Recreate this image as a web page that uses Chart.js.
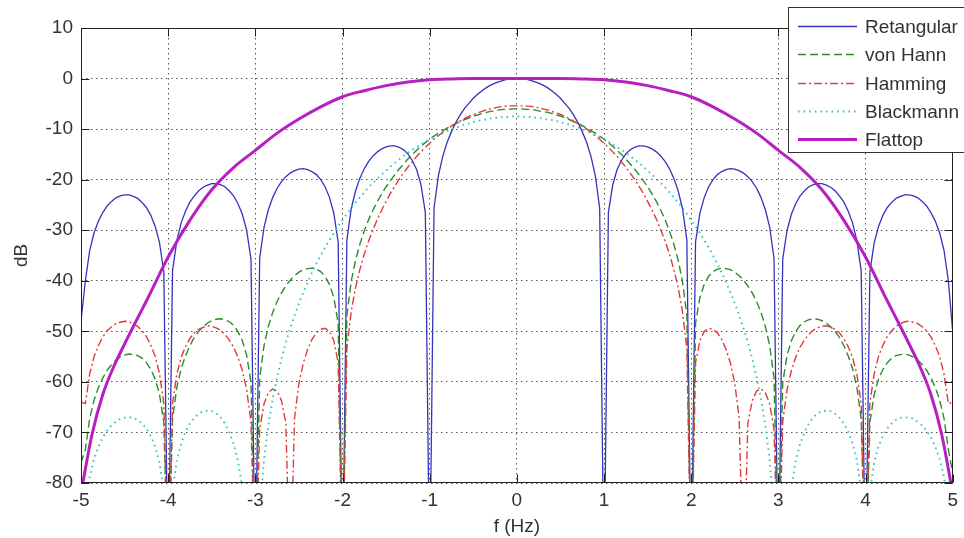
<!DOCTYPE html>
<html>
<head>
<meta charset="utf-8">
<script src="https://cdn.jsdelivr.net/npm/chart.js@4.4.1/dist/chart.umd.min.js"></script>
<style>
  html, body { margin: 0; padding: 0; background: #fff; }
</style>
</head>
<body>
<canvas id="chart" width="964" height="538"></canvas>
<script>
// frequency grid (Hz), shared by the four fine curves
const freq = [
  -5, -4.95, -4.9, -4.85, -4.8, -4.75, -4.7, -4.65, -4.6, -4.55, -4.5, -4.45, -4.4, -4.35, -4.3, -4.25, -4.2, -4.15, -4.1, -4.05,
  -4, -3.95, -3.9, -3.85, -3.8, -3.75, -3.7, -3.65, -3.6, -3.55, -3.5, -3.45, -3.4, -3.35, -3.3, -3.25, -3.2, -3.15, -3.1, -3.05,
  -3, -2.95, -2.9, -2.85, -2.8, -2.75, -2.7, -2.65, -2.6, -2.55, -2.5, -2.45, -2.4, -2.35, -2.3, -2.25, -2.2, -2.15, -2.1, -2.05,
  -2, -1.95, -1.9, -1.85, -1.8, -1.75, -1.7, -1.65, -1.6, -1.55, -1.5, -1.45, -1.4, -1.35, -1.3, -1.25, -1.2, -1.15, -1.1, -1.05,
  -1, -0.95, -0.9, -0.85, -0.8, -0.75, -0.7, -0.65, -0.6, -0.55, -0.5, -0.45, -0.4, -0.35, -0.3, -0.25, -0.2, -0.15, -0.1, -0.05,
  0, 0.05, 0.1, 0.15, 0.2, 0.25, 0.3, 0.35, 0.4, 0.45, 0.5, 0.55, 0.6, 0.65, 0.7, 0.75, 0.8, 0.85, 0.9, 0.95,
  1, 1.05, 1.1, 1.15, 1.2, 1.25, 1.3, 1.35, 1.4, 1.45, 1.5, 1.55, 1.6, 1.65, 1.7, 1.75, 1.8, 1.85, 1.9, 1.95,
  2, 2.05, 2.1, 2.15, 2.2, 2.25, 2.3, 2.35, 2.4, 2.45, 2.5, 2.55, 2.6, 2.65, 2.7, 2.75, 2.8, 2.85, 2.9, 2.95,
  3, 3.05, 3.1, 3.15, 3.2, 3.25, 3.3, 3.35, 3.4, 3.45, 3.5, 3.55, 3.6, 3.65, 3.7, 3.75, 3.8, 3.85, 3.9, 3.95,
  4, 4.05, 4.1, 4.15, 4.2, 4.25, 4.3, 4.35, 4.4, 4.45, 4.5, 4.55, 4.6, 4.65, 4.7, 4.75, 4.8, 4.85, 4.9, 4.95,
  5
];

// dB values (-100 = null, below the axis)
const rectangular = [
  -48, -40.0, -34.0, -30.5, -28.2, -26.5, -25.2, -24.3, -23.6, -23.2, -23.0, -23.0, -23.3, -23.7, -24.5, -25.5, -27.0, -29.2, -32.4, -38.2,
  -100, -38.0, -32.0, -28.5, -26.2, -24.4, -23.2, -22.2, -21.5, -21.1, -20.8, -20.8, -21.0, -21.4, -22.2, -23.2, -24.7, -26.8, -30.0, -35.7,
  -100, -35.5, -29.4, -25.9, -23.5, -21.7, -20.4, -19.4, -18.7, -18.2, -17.9, -17.8, -18.0, -18.4, -19.0, -20.0, -21.4, -23.5, -26.6, -32.3,
  -100, -31.9, -25.7, -22.2, -19.7, -17.8, -16.4, -15.3, -14.5, -13.9, -13.5, -13.3, -13.3, -13.6, -14.1, -14.9, -16.2, -18.0, -21.0, -26.5,
  -100, -25.6, -19.2, -15.4, -12.6, -10.5, -8.7, -7.2, -5.9, -4.9, -3.9, -3.1, -2.4, -1.8, -1.3, -0.9, -0.6, -0.3, -0.1, 0.0,
  0, 0.0, -0.1, -0.3, -0.6, -0.9, -1.3, -1.8, -2.4, -3.1, -3.9, -4.9, -5.9, -7.2, -8.7, -10.5, -12.6, -15.4, -19.2, -25.6,
  -100, -26.5, -21.0, -18.0, -16.2, -14.9, -14.1, -13.6, -13.3, -13.3, -13.5, -13.9, -14.5, -15.3, -16.4, -17.8, -19.7, -22.2, -25.7, -31.9,
  -100, -32.3, -26.6, -23.5, -21.4, -20.0, -19.0, -18.4, -18.0, -17.8, -17.9, -18.2, -18.7, -19.4, -20.4, -21.7, -23.5, -25.9, -29.4, -35.5,
  -100, -35.7, -30.0, -26.8, -24.7, -23.2, -22.2, -21.4, -21.0, -20.8, -20.8, -21.1, -21.5, -22.2, -23.2, -24.4, -26.2, -28.5, -32.0, -38.0,
  -100, -38.2, -32.4, -29.2, -27.0, -25.5, -24.5, -23.7, -23.3, -23.0, -23.0, -23.2, -23.6, -24.3, -25.2, -26.5, -28.2, -30.5, -34.0, -40.0,
  -50
];

const vonHann = [
  -76, -73.4, -67.2, -63.6, -61.1, -59.2, -57.7, -56.6, -55.7, -55.1, -54.7, -54.5, -54.6, -54.8, -55.3, -56.2, -57.5, -59.4, -62.4, -68.0,
  -100, -67.3, -61.0, -57.3, -54.8, -52.8, -51.2, -50.0, -49.1, -48.4, -47.9, -47.6, -47.5, -47.7, -48.1, -48.8, -50.0, -51.8, -54.7, -60.1,
  -100, -59.2, -52.8, -49.0, -46.2, -44.1, -42.4, -41.0, -39.9, -39.0, -38.3, -37.8, -37.6, -37.5, -37.7, -38.2, -39.1, -40.7, -43.3, -48.4,
  -100, -46.8, -40.1, -35.9, -32.7, -30.1, -27.9, -26.0, -24.3, -22.8, -21.4, -20.2, -19.0, -17.9, -16.9, -15.9, -15.0, -14.2, -13.4, -12.7,
  -12.0, -11.4, -10.8, -10.3, -9.8, -9.3, -8.9, -8.5, -8.1, -7.8, -7.4, -7.2, -6.9, -6.7, -6.5, -6.4, -6.2, -6.1, -6.1, -6.0,
  -6.0, -6.0, -6.1, -6.1, -6.2, -6.4, -6.5, -6.7, -6.9, -7.2, -7.4, -7.8, -8.1, -8.5, -8.9, -9.3, -9.8, -10.3, -10.8, -11.4,
  -12.0, -12.7, -13.4, -14.2, -15.0, -15.9, -16.9, -17.9, -19.0, -20.2, -21.4, -22.8, -24.3, -26.0, -27.9, -30.1, -32.7, -35.9, -40.1, -46.8,
  -100, -48.4, -43.3, -40.7, -39.1, -38.2, -37.7, -37.5, -37.6, -37.8, -38.3, -39.0, -39.9, -41.0, -42.4, -44.1, -46.2, -49.0, -52.8, -59.2,
  -100, -60.1, -54.7, -51.8, -50.0, -48.8, -48.1, -47.7, -47.5, -47.6, -47.9, -48.4, -49.1, -50.0, -51.2, -52.8, -54.8, -57.3, -61.0, -67.3,
  -100, -68.0, -62.4, -59.4, -57.5, -56.2, -55.3, -54.8, -54.6, -54.5, -54.7, -55.1, -55.7, -56.6, -57.7, -59.2, -61.1, -63.6, -67.2, -73.4,
  -78
];

const hamming = [
  -64, -64.3, -58.4, -55.0, -52.8, -51.1, -49.9, -49.1, -48.5, -48.2, -48.0, -48.1, -48.5, -49.0, -49.9, -51.0, -52.7, -54.9, -58.3, -64.2,
  -100, -64.3, -58.4, -55.1, -53.0, -51.4, -50.3, -49.6, -49.2, -48.9, -49.0, -49.3, -49.8, -50.6, -51.7, -53.1, -55.1, -57.7, -61.5, -67.9,
  -100, -69.3, -64.3, -62.1, -61.4, -61.8, -63.7, -68.2, -100, -67.1, -60.3, -56.3, -53.6, -51.6, -50.3, -49.6, -49.4, -50.0, -51.8, -56.2,
  -100, -53.4, -46.1, -41.3, -37.7, -34.7, -32.1, -29.9, -27.8, -26.0, -24.3, -22.7, -21.3, -19.9, -18.7, -17.5, -16.5, -15.4, -14.5, -13.6,
  -12.8, -12.0, -11.3, -10.6, -10.0, -9.4, -8.9, -8.4, -7.9, -7.5, -7.1, -6.8, -6.5, -6.2, -6.0, -5.8, -5.6, -5.5, -5.4, -5.4,
  -5.4, -5.4, -5.4, -5.5, -5.6, -5.8, -6.0, -6.2, -6.5, -6.8, -7.1, -7.5, -7.9, -8.4, -8.9, -9.4, -10.0, -10.6, -11.3, -12.0,
  -12.8, -13.6, -14.5, -15.4, -16.5, -17.5, -18.7, -19.9, -21.3, -22.7, -24.3, -26.0, -27.8, -29.9, -32.1, -34.7, -37.7, -41.3, -46.1, -53.4,
  -100, -56.2, -51.8, -50.0, -49.4, -49.6, -50.3, -51.6, -53.6, -56.3, -60.3, -67.1, -100, -68.2, -63.7, -61.8, -61.4, -62.1, -64.3, -69.3,
  -100, -67.9, -61.5, -57.7, -55.1, -53.1, -51.7, -50.6, -49.8, -49.3, -49.0, -48.9, -49.2, -49.6, -50.3, -51.4, -53.0, -55.1, -58.4, -64.3,
  -100, -64.2, -58.3, -54.9, -52.7, -51.0, -49.9, -49.0, -48.5, -48.1, -48.0, -48.2, -48.5, -49.1, -49.9, -51.1, -52.8, -55.0, -58.4, -64.3,
  -64
];

const blackmann = [
  -90, -84.9, -78.8, -75.2, -72.8, -71.0, -69.6, -68.6, -67.9, -67.3, -67.1, -67.0, -67.1, -67.5, -68.2, -69.2, -70.7, -72.7, -75.9, -81.7,
  -100, -81.5, -75.5, -72.1, -69.8, -68.2, -67.1, -66.3, -65.8, -65.7, -65.8, -66.2, -67.0, -68.2, -69.9, -72.2, -75.6, -80.7, -89.7, -100,
  -100, -85.5, -75.3, -68.5, -63.3, -59.1, -55.4, -52.2, -49.4, -46.8, -44.5, -42.3, -40.3, -38.4, -36.6, -35.0, -33.4, -32.0, -30.6, -29.2,
  -28.0, -26.8, -25.6, -24.5, -23.5, -22.5, -21.5, -20.6, -19.8, -19.0, -18.2, -17.4, -16.7, -16.0, -15.3, -14.7, -14.1, -13.6, -13.0, -12.5,
  -12.0, -11.6, -11.2, -10.8, -10.4, -10.0, -9.7, -9.4, -9.1, -8.9, -8.6, -8.4, -8.2, -8.1, -7.9, -7.8, -7.7, -7.6, -7.6, -7.5,
  -7.5, -7.5, -7.6, -7.6, -7.7, -7.8, -7.9, -8.1, -8.2, -8.4, -8.6, -8.9, -9.1, -9.4, -9.7, -10.0, -10.4, -10.8, -11.2, -11.6,
  -12.0, -12.5, -13.0, -13.6, -14.1, -14.7, -15.3, -16.0, -16.7, -17.4, -18.2, -19.0, -19.8, -20.6, -21.5, -22.5, -23.5, -24.5, -25.6, -26.8,
  -28.0, -29.2, -30.6, -32.0, -33.4, -35.0, -36.6, -38.4, -40.3, -42.3, -44.5, -46.8, -49.4, -52.2, -55.4, -59.1, -63.3, -68.5, -75.3, -85.5,
  -100, -100, -89.7, -80.7, -75.6, -72.2, -69.9, -68.2, -67.0, -66.2, -65.8, -65.7, -65.8, -66.3, -67.1, -68.2, -69.8, -72.1, -75.5, -81.5,
  -100, -81.7, -75.9, -72.7, -70.7, -69.2, -68.2, -67.5, -67.1, -67.0, -67.1, -67.3, -67.9, -68.6, -69.6, -71.0, -72.8, -75.2, -78.8, -84.9,
  -90
];

// flattop is smooth, read on a coarser grid (finer near the steep edges)
const flatFreq = [
  -5, -4.875, -4.75, -4.625, -4.5, -4.375, -4.25, -4, -3.75, -3.5, -3.25, -3, -2.75, -2.5, -2.25, -2, -1.75, -1.5, -1.25, -1, -0.75, -0.5, -0.25,
  0, 0.25, 0.5, 0.75, 1, 1.25, 1.5, 1.75, 2, 2.25, 2.5, 2.75, 3, 3.25, 3.5, 3.75, 4, 4.25, 4.375, 4.5, 4.625, 4.75, 4.875, 5
];
const flattop = [
  -82, -70.5, -62.5, -57.0, -52.5, -48.2, -44.0, -35.3, -28.0, -22.0, -17.6, -14.2, -10.8, -8.0, -5.6, -3.6, -2.4, -1.4, -0.7, -0.25, -0.08, 0, 0,
  0, 0, 0, -0.08, -0.25, -0.7, -1.4, -2.4, -3.6, -5.6, -8.0, -10.8, -14.2, -17.6, -22.0, -28.0, -35.3, -44.0, -48.2, -52.5, -57.0, -62.5, -70.5, -82
];

const seriesNames = ['Retangular', 'von Hann', 'Hamming', 'Blackmann', 'Flattop'];
const xTicks = [-5, -4, -3, -2, -1, 0, 1, 2, 3, 4, 5];
const yTicks = [10, 0, -10, -20, -30, -40, -50, -60, -70, -80];

const FONT = '"Liberation Sans", Arial, Helvetica, sans-serif';
const TEXT = '#333';

function pts(xs, ys) {
  return xs.map((x, i) => ({ x: x, y: ys[i] }));
}

// axes box with inward ticks, like the original plot
const framePlugin = {
  id: 'frame',
  afterDatasetsDraw(chart) {
    const { ctx, chartArea: a, scales } = chart;
    const L = Math.round(a.left) + 0.5, R = Math.round(a.right) - 0.5;
    const T = Math.round(a.top) + 0.5, B = Math.round(a.bottom) - 0.5;
    ctx.save();
    ctx.strokeStyle = '#222';
    ctx.lineWidth = 1;
    ctx.setLineDash([]);
    ctx.strokeRect(L, T, R - L, B - T);
    ctx.beginPath();
    xTicks.forEach(v => {
      const px = Math.round(scales.x.getPixelForValue(v)) + 0.5;
      ctx.moveTo(px, B); ctx.lineTo(px, B - 8);
      ctx.moveTo(px, T); ctx.lineTo(px, T + 8);
    });
    yTicks.forEach(v => {
      const py = Math.round(scales.y.getPixelForValue(v)) + 0.5;
      ctx.moveTo(L, py); ctx.lineTo(L + 8, py);
      ctx.moveTo(R, py); ctx.lineTo(R - 8, py);
    });
    ctx.stroke();
    ctx.restore();
  }
};

// boxed legend in the top right corner, over the plot
const legendPlugin = {
  id: 'boxLegend',
  afterDraw(chart) {
    const ctx = chart.ctx;
    ctx.save();
    ctx.fillStyle = '#fff';
    ctx.fillRect(788.5, 7.5, 190, 145);
    ctx.strokeStyle = '#333';
    ctx.lineWidth = 1;
    ctx.strokeRect(788.5, 7.5, 190, 145);
    ctx.font = '19px ' + FONT;
    ctx.textBaseline = 'middle';
    seriesNames.forEach((name, i) => {
      const ds = chart.data.datasets.find(d => d.label === name);
      const y = Math.round(26 + i * 28.3) + 0.5;
      ctx.strokeStyle = ds.borderColor;
      ctx.lineWidth = ds.borderWidth;
      ctx.setLineDash(ds.borderDash || []);
      ctx.beginPath();
      ctx.moveTo(798, y);
      ctx.lineTo(857, y);
      ctx.stroke();
      ctx.setLineDash([]);
      ctx.fillStyle = TEXT;
      ctx.fillText(name, 865, y + 1);
    });
    ctx.restore();
  }
};

const ctx = document.getElementById('chart').getContext('2d');

new Chart(ctx, {
  type: 'line',
  data: {
    datasets: [
      {
        label: 'Retangular',
        data: pts(freq, rectangular),
        borderColor: '#3333bf',
        borderWidth: 1.3,
        order: 5
      },
      {
        label: 'von Hann',
        data: pts(freq, vonHann),
        borderColor: '#2b8c2b',
        borderWidth: 1.4,
        borderDash: [8, 4],
        order: 4
      },
      {
        label: 'Hamming',
        data: pts(freq, hamming),
        borderColor: '#e03a3a',
        borderWidth: 1.4,
        borderDash: [8, 3, 2, 3],
        order: 3
      },
      {
        label: 'Blackmann',
        data: pts(freq, blackmann),
        borderColor: '#36c2ca',
        borderWidth: 1.9,
        borderDash: [1.6, 4],
        order: 2
      },
      {
        label: 'Flattop',
        data: pts(flatFreq, flattop),
        borderColor: '#b81fc0',
        borderWidth: 3,
        cubicInterpolationMode: 'monotone',
        order: 1
      }
    ]
  },
  options: {
    responsive: false,
    devicePixelRatio: 1,
    animation: false,
    events: [],
    layout: { padding: { top: 28, right: 7, left: 0, bottom: 0 } },
    elements: {
      point: { radius: 0 },
      line: { tension: 0, fill: false }
    },
    plugins: {
      legend: { display: false },
      tooltip: { enabled: false }
    },
    scales: {
      x: {
        type: 'linear',
        min: -5,
        max: 5,
        afterFit(scale) { scale.height = 55; },
        afterBuildTicks(scale) { scale.ticks = xTicks.map(v => ({ value: v })); },
        ticks: {
          padding: 6,
          color: TEXT,
          font: { family: FONT, size: 19 },
          callback: v => String(v)
        },
        grid: { color: '#555', lineWidth: 1, drawTicks: false },
        border: { display: false, dash: [1.5, 3.5] },
        title: {
          display: true,
          text: 'f (Hz)',
          color: TEXT,
          font: { family: FONT, size: 19 },
          padding: { top: 0, bottom: 0 }
        }
      },
      y: {
        min: -80,
        max: 10,
        afterFit(scale) { scale.width = 81; },
        afterBuildTicks(scale) { scale.ticks = yTicks.slice().reverse().map(v => ({ value: v })); },
        ticks: {
          padding: 8,
          color: TEXT,
          font: { family: FONT, size: 19 },
          callback: v => String(v)
        },
        grid: { color: '#555', lineWidth: 1, drawTicks: false },
        border: { display: false, dash: [1.5, 3.5] },
        title: {
          display: true,
          text: 'dB',
          color: TEXT,
          font: { family: FONT, size: 19 },
          padding: { top: 10, bottom: 0 }
        }
      }
    }
  },
  plugins: [framePlugin, legendPlugin]
});
</script>
</body>
</html>
